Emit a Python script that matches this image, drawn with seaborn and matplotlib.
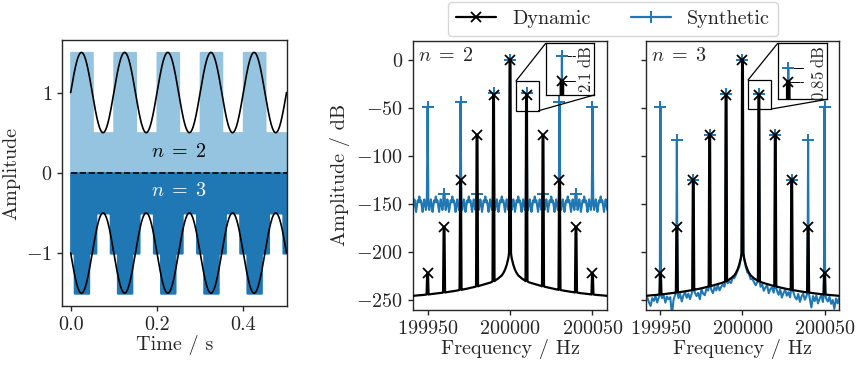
import numpy as np
import pandas as pd
import matplotlib
matplotlib.use("Agg")
import matplotlib.pyplot as plt
import seaborn as sns
from matplotlib.patches import Rectangle, ConnectionPatch
from matplotlib.lines import Line2D
from matplotlib.ticker import ScalarFormatter

# ---------------- data ----------------
# time-domain signal (left panel)
SIG_FREQ = 10.0        # Hz
SIG_AMP = 0.5
OFFSET_N2 = 1.0
OFFSET_N3 = -1.0
T_END = 0.5
TIME_TICKS = [0.0, 0.2, 0.4]
AMP_TICKS = [-1, 0, 1]

# spectra (middle / right panels)
CARRIER = 200000
SPACING = 10
HARM_K = [-5, -4, -3, -2, -1, 0, 1, 2, 3, 4, 5]
DYN_DB = [-222, -173.5, -125, -78, -36.2, 0, -36.2, -78, -125, -173.5, -222]
SYN2_DB = [-48.5, -139, -44, -139, -34.1, 0, -34.1, -139, -44, -139, -48.5]
SYN3_DB = [-48.6, -83.3, -125, -78, -35.35, 0, -35.35, -78, -125, -83.3, -48.6]
FREQ_TICKS = [199950, 200000, 200050]
DB_TICKS = [0, -50, -100, -150, -200, -250]

# dynamic noise floor, read at offsets 0..59 Hz from the carrier (symmetric)
BASE_DB = [-201, -206, -213, -218, -221.5, -224, -225.5, -227, -228.2, -229.2,
           -230, -230.8, -231.5, -232, -232.6, -233.1, -233.6, -234.1, -234.5, -235,
           -235.4, -235.8, -236.2, -236.6, -237, -237.4, -237.8, -238.1, -238.5, -238.8,
           -239.1, -239.4, -239.7, -240, -240.3, -240.6, -240.8, -241.1, -241.3, -241.6,
           -241.8, -242, -242.3, -242.5, -242.7, -242.9, -243.1, -243.3, -243.5, -243.7,
           -243.9, -244, -244.2, -244.4, -244.5, -244.7, -244.8, -245, -245.1, -245.3]

# synthetic n=2 floor ripple over one 10 Hz period, 0.5 Hz steps (repeats)
RIPPLE2 = [-139, -149, -156, -151, -145, -150, -158, -152, -146, -148,
           -142, -148, -146, -152, -158, -150, -145, -151, -156, -149]

# synthetic n=3 floor: deviation from the dynamic floor at offsets -59..59 Hz
DEV3 = [-5, -2, -7, -11, -3, -6, -1, -8, -3, 0,
        -4, -1, -9, -3, -6, -4, -22, -7, -2, 0,
        -6, -2, -10, -4, -1, -7, -3, -9, -4, 0,
        -3, -7, -4, -11, -1, -6, -8, -2, -4, 0,
        -4, -8, -2, -6, -1, -7, -4, -2, -5, 0,
        -3, -2, -5, -1, -3, -2, -1, -2, -1,
        0,
        -1, -2, -3, -1, -4, -2, -4, -6, -2,
        0, -5, -2, -8, -4, -1, -9, -4, -2, -7,
        0, -4, -8, -2, -10, -5, -1, -7, -3, -8,
        0, -2, -7, -9, -3, -11, -5, -2, -8, -4,
        0, -6, -15, -3, -8, -2, -10, -5, -1, -8,
        0, -4, -7, -2, -9, -5, -14, -3, -8, -2]

DIFF2_LABEL = r"$2.1\;\mathrm{dB}$"
DIFF3_LABEL = r"$0.85\;\mathrm{dB}$"

# ---------------- style ----------------
sns.set_style("ticks")
plt.rcParams.update({
    "font.family": ["cmr10", "DejaVu Serif"],
    "mathtext.fontset": "cm",
    "axes.formatter.use_mathtext": True,
    "font.size": 14.5,
    "axes.labelsize": 14.5,
    "xtick.labelsize": 14.5,
    "ytick.labelsize": 14.5,
    "legend.fontsize": 14.5,
    "axes.linewidth": 1.0,
    "xtick.major.width": 1.0,
    "ytick.major.width": 1.0,
    "xtick.major.size": 3.5,
    "ytick.major.size": 3.5,
    "axes.unicode_minus": True,
})

BLUE = "#1f77b4"
LIGHT = "#94c4df"

fig = plt.figure(figsize=(8.64, 3.71), dpi=100)
ax_t = fig.add_axes([0.0718, 0.1752, 0.2598, 0.7170])
ax2 = fig.add_axes([0.4777, 0.1644, 0.2252, 0.7259])
ax3 = fig.add_axes([0.7473, 0.1644, 0.2241, 0.7259], sharey=ax2)
in2 = fig.add_axes([0.6316, 0.7439, 0.05625, 0.1394])
in3 = fig.add_axes([0.9001, 0.7323, 0.0574, 0.1509])

# ---------------- left panel ----------------
t = np.linspace(0, T_END, 4001)
phase = np.sin(2 * np.pi * SIG_FREQ * t)


def quantize(x, n, amp):
    levels = np.linspace(-amp, amp, n)
    idx = np.argmin(np.abs(x[:, None] - levels[None, :]), axis=1)
    return levels[idx]


s2 = OFFSET_N2 + SIG_AMP * phase
q2 = OFFSET_N2 + quantize(SIG_AMP * phase, 2, SIG_AMP)
s3 = OFFSET_N3 - SIG_AMP * phase
q3 = OFFSET_N3 + quantize(-SIG_AMP * phase, 3, SIG_AMP)

ax_t.fill_between(t, 0, q2, color=LIGHT, lw=1.5, ec=LIGHT, zorder=1)
ax_t.fill_between(t, 0, q3, color=BLUE, lw=1.5, ec=BLUE, zorder=1.5)
ax_t.plot([0, T_END], [0, 0], color="k", ls="--", lw=1.2, zorder=3)
df_t = pd.DataFrame({"t": t, "s2": s2, "s3": s3})
sns.lineplot(data=df_t, x="t", y="s2", ax=ax_t, color="k", lw=1.2, estimator=None, sort=False, zorder=4)
sns.lineplot(data=df_t, x="t", y="s3", ax=ax_t, color="k", lw=1.2, estimator=None, sort=False, zorder=4)
ax_t.text(0.25, 0.26, r"$n\;=\;2$", ha="center", va="center", color="k")
ax_t.text(0.25, -0.23, r"$n\;=\;3$", ha="center", va="center", color="white")
ax_t.set_xlim(-0.02, T_END)
ax_t.set_ylim(-1.66, 1.655)
ax_t.set_xticks(TIME_TICKS)
ax_t.set_xticklabels([f"{v:.1f}" for v in TIME_TICKS])
ax_t.set_yticks(AMP_TICKS)
ax_t.set_xlabel("Time / s", labelpad=1)
ax_t.set_ylabel("Amplitude")

# ---------------- spectra ----------------
harm_off = [SPACING * k for k in HARM_K]
harm_f = [CARRIER + o for o in harm_off]


def build_path(floor_off, floor_db, peak_off, peak_db, half=0.4, top=0.0):
    peak_map = {round(o, 3): v for o, v in zip(peak_off, peak_db)}
    xs, ys = [], []
    for o, v in zip(floor_off, floor_db):
        key = round(float(o), 3)
        if key in peak_map:
            p = peak_map[key]
            if top > 0:
                xs += [o - half, o - top, o, o + top, o + half]
                ys += [v, p, p, p, v]
            else:
                xs += [o - half, o, o + half]
                ys += [v, p, v]
        else:
            xs.append(o)
            ys.append(v)
    return CARRIER + np.array(xs, dtype=float), np.array(ys, dtype=float)


off_int = np.arange(-59, 60)
dyn_floor = [BASE_DB[abs(d)] for d in off_int]
dyn_x, dyn_y = build_path(off_int, dyn_floor, harm_off, DYN_DB, half=0.6, top=0.25)

off_half = np.arange(-118, 119) / 2.0
syn2_floor = [RIPPLE2[i % 20] for i in np.arange(-118, 119)]
syn2_x, syn2_y = build_path(off_half, syn2_floor, harm_off, SYN2_DB, half=0.4)

syn3_floor = [BASE_DB[abs(d)] + dv for d, dv in zip(off_int, DEV3)]
syn3_x, syn3_y = build_path(off_int, syn3_floor, harm_off, SYN3_DB, half=0.4)


def draw_spectrum(ax, sx, sy, sdb, lwb=1.6, lws=1.5):
    sns.lineplot(x=sx, y=sy, ax=ax, color=BLUE, lw=lws, estimator=None, sort=False, zorder=2)
    ax.plot(harm_f, sdb, ls="none", marker="+", ms=8, mew=1.4, color=BLUE, zorder=3)
    sns.lineplot(x=dyn_x, y=dyn_y, ax=ax, color="k", lw=lwb, estimator=None, sort=False, zorder=4)
    ax.plot(harm_f, DYN_DB, ls="none", marker="x", ms=6.5, mew=1.3, color="k", zorder=5)


draw_spectrum(ax2, syn2_x, syn2_y, SYN2_DB)
draw_spectrum(ax3, syn3_x, syn3_y, SYN3_DB)

for ax in (ax2, ax3):
    ax.set_xlim(199941, 200059)
    ax.set_ylim(-260, 20)
    ax.set_xticks(FREQ_TICKS)
    fmt = ScalarFormatter(useOffset=False, useMathText=True)
    fmt.set_scientific(False)
    ax.xaxis.set_major_formatter(fmt)
    ax.set_xlabel("Frequency / Hz", labelpad=1)
ax2.set_yticks(DB_TICKS)
ax2.set_ylabel("Amplitude / dB")
ax3.set_ylabel("")
ax3.tick_params(labelleft=False)
ax2.text(0.025, 0.975, r"$n\;=\;2$", transform=ax2.transAxes, ha="left", va="top")
ax3.text(0.025, 0.975, r"$n\;=\;3$", transform=ax3.transAxes, ha="left", va="top")

# ---------------- insets ----------------
draw_spectrum(in2, syn2_x, syn2_y, SYN2_DB, lwb=2.2)
draw_spectrum(in3, syn3_x, syn3_y, SYN3_DB, lwb=2.2)
in2.set_xlim(200005, 200020)
in2.set_ylim(-37.36, -33.07)
in3.set_xlim(200006.8, 200021.8)
in3.set_ylim(-37.28, -33.8)
for a in (in2, in3):
    a.set_xticks([])
    a.set_yticks([])
    a.set_xlabel("")
    a.set_ylabel("")
    for sp in a.spines.values():
        sp.set_color("k")
        sp.set_linewidth(0.9)

pk = CARRIER + SPACING
# n = 2 inset annotation
b2, d2 = SYN2_DB[6], DYN_DB[6]
in2.plot([pk, 200014.0], [b2, b2], color="k", lw=0.7, zorder=1)
in2.plot([pk, 200014.0], [d2, d2], color="k", lw=0.7, zorder=1)
in2.annotate("", xy=(200013.2, b2), xytext=(200013.2, d2),
             arrowprops=dict(arrowstyle="<->", lw=0.8, shrinkA=0, shrinkB=0, mutation_scale=7))
in2.text(200017.3, (b2 + d2) / 2 - 0.1, DIFF2_LABEL, rotation=90, ha="center", va="center", fontsize=12)

# n = 3 inset annotation
b3, d3 = SYN3_DB[6], DYN_DB[6]
in3.plot([pk, 200014.6], [b3, b3], color="k", lw=0.7, zorder=1)
in3.plot([pk, 200014.6], [d3, d3], color="k", lw=0.7, zorder=1)
in3.annotate("", xy=(200013.76, b3), xytext=(200013.76, -34.5),
             arrowprops=dict(arrowstyle="->", lw=0.8, shrinkA=0, shrinkB=0, mutation_scale=7))
in3.annotate("", xy=(200013.76, d3), xytext=(200013.76, -37.12),
             arrowprops=dict(arrowstyle="->", lw=0.8, shrinkA=0, shrinkB=0, mutation_scale=7))
in3.text(200019.1, -35.65, DIFF3_LABEL, rotation=90, ha="center", va="center", fontsize=12)

# indicator boxes and connectors
for ax, a, (rx, ry, rw, rh) in ((ax2, in2, (200003.6, -52.8, 13.7, 30.9)),
                                (ax3, in3, (200003.4, -51.0, 14.2, 30.2))):
    ax.add_patch(Rectangle((rx, ry), rw, rh, fill=False, ec="k", lw=0.9, zorder=6))
    c1 = ConnectionPatch(xyA=(rx, ry + rh), coordsA=ax.transData, xyB=(0, 1), coordsB=a.transAxes,
                         color="k", lw=0.9)
    c2 = ConnectionPatch(xyA=(rx + rw, ry), coordsA=ax.transData, xyB=(1, 0), coordsB=a.transAxes,
                         color="k", lw=0.9)
    fig.add_artist(c1)
    fig.add_artist(c2)

# ---------------- legend ----------------
handles = [Line2D([], [], color="k", lw=1.6, marker="x", ms=7, mew=1.3),
           Line2D([], [], color=BLUE, lw=1.6, marker="+", ms=9, mew=1.4)]
fig.legend(handles, ["Dynamic", "Synthetic"], loc="upper center", bbox_to_anchor=(0.7095, 1.0),
           ncol=2, borderaxespad=0.1, frameon=True)

fig.savefig("out.png", dpi=100)
